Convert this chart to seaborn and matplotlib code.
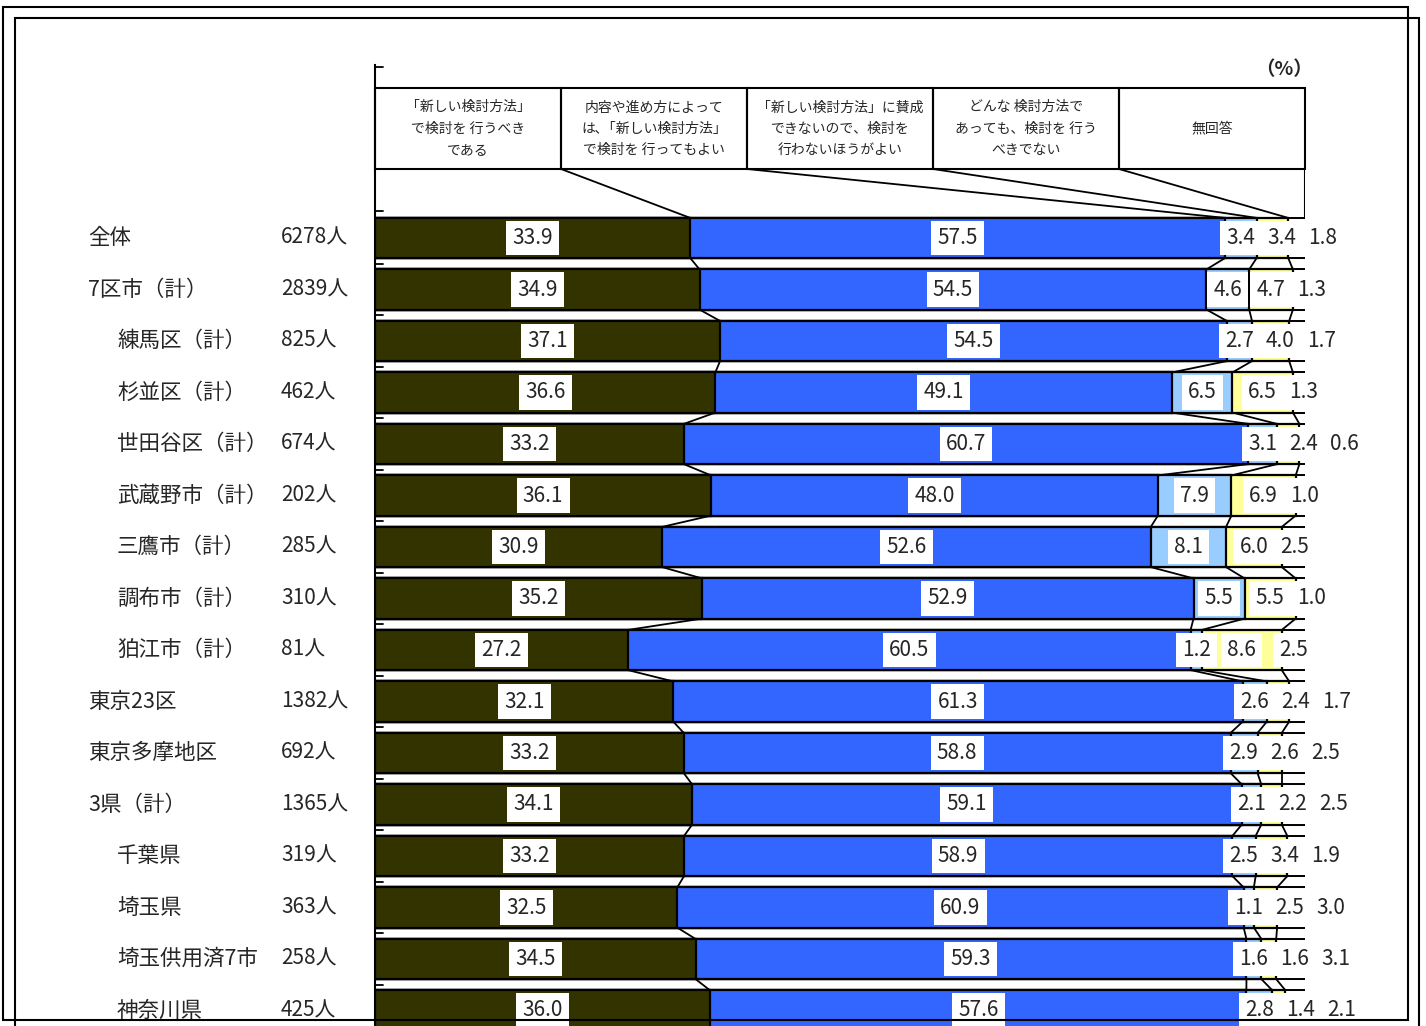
import numpy as np
import pandas as pd
import seaborn as sns
import matplotlib.pyplot as plt
from matplotlib.patches import Rectangle
from matplotlib.transforms import blended_transform_factory

# --- data ---
names = ['全体', '7区市（計）', '練馬区（計）', '杉並区（計）', '世田谷区（計）',
         '武蔵野市（計）', '三鷹市（計）', '調布市（計）', '狛江市（計）',
         '東京23区', '東京多摩地区', '3県（計）', '千葉県', '埼玉県',
         '埼玉供用済7市', '神奈川県']
indent = [0, 0, 1, 1, 1, 1, 1, 1, 1, 0, 0, 0, 1, 1, 1, 1]
counts = ['6278人', '2839人', '825人', '462人', '674人', '202人', '285人', '310人',
          '81人', '1382人', '692人', '1365人', '319人', '363人', '258人', '425人']

choices = ['「新しい検討方法」\nで検討を 行うべき\nである',
           '内容や進め方によって\nは､「新しい検討方法」\nで検討を 行ってもよい',
           '「新しい検討方法」に賛成\nできないので、検討を\n行わないほうがよい',
           'どんな 検討方法で\nあっても、検討を 行う\nべきでない',
           '無回答']

should_do = [33.9, 34.9, 37.1, 36.6, 33.2, 36.1, 30.9, 35.2, 27.2, 32.1, 33.2, 34.1, 33.2, 32.5, 34.5, 36.0]
may_do = [57.5, 54.5, 54.5, 49.1, 60.7, 48.0, 52.6, 52.9, 60.5, 61.3, 58.8, 59.1, 58.9, 60.9, 59.3, 57.6]
better_not = [3.4, 4.6, 2.7, 6.5, 3.1, 7.9, 8.1, 5.5, 1.2, 2.6, 2.9, 2.1, 2.5, 1.1, 1.6, 2.8]
never_do = [3.4, 4.7, 4.0, 6.5, 2.4, 6.9, 6.0, 5.5, 8.6, 2.4, 2.6, 2.2, 3.4, 2.5, 1.6, 1.4]
no_answer = [1.8, 1.3, 1.7, 1.3, 0.6, 1.0, 2.5, 1.0, 2.5, 1.7, 2.5, 2.5, 1.9, 3.0, 3.1, 2.1]

colors = ['#333300', '#3366FF', '#99CCFF', '#FFFF99', '#FFFFFF']

vals = np.array([should_do, may_do, better_not, never_do, no_answer]).T
pct = vals / vals.sum(axis=1, keepdims=True) * 100
cum = pct.cumsum(axis=1)
n = len(names)

df = pd.DataFrame({'name': names})
for k in range(5):
    df[f'c{k}'] = cum[:, k]

sns.set_style('white')
plt.rcParams['font.family'] = ['Noto Sans CJK JP', 'DejaVu Sans']

W, H = 1426, 1026
fig = plt.figure(figsize=(W / 100, H / 100), dpi=100)
ax = fig.add_axes([375 / W, 0, 930 / W, 1 - 65 / H])

h = 0.78
row = 51.5

# stacked 100% bars: draw cumulative totals from the widest down
for k in reversed(range(5)):
    sns.barplot(data=df, x=f'c{k}', y='name', order=names, orient='h',
                color=colors[k], saturation=1, width=h, errorbar=None,
                edgecolor='#bbbbbb' if k == 4 else 'black',
                linewidth=0.8 if k == 4 else 1.6, ax=ax)

# header table
hdr_top = (88 - 238) / row
hdr_bot = (169 - 238) / row
for k in range(5):
    ax.add_patch(Rectangle((20 * k, hdr_top), 20, hdr_bot - hdr_top, fill=False,
                           ec='black', lw=1.5, clip_on=False))
    ax.text(20 * k + 10, (hdr_top + hdr_bot) / 2, choices[k], ha='center', va='center',
            fontsize=10, linespacing=1.65)
ax.plot([100, 100], [hdr_bot, -h / 2], color='black', lw=1.5)
for k in range(4):
    ax.plot([20 * (k + 1), cum[0, k]], [hdr_bot, -h / 2], color='black', lw=1.3)

# series lines between bars
for k in range(4):
    for i in range(n - 1):
        ax.plot([cum[i, k], cum[i + 1, k]], [i + h / 2, i + 1 - h / 2], color='black', lw=1.3)

# bar outlines and gap bands
for i in range(n):
    for y in (i - h / 2, i + h / 2):
        ax.plot([0, 100.35], [y, y], color='black', lw=1.4)
    if i < n - 1:
        ax.plot([100.35, 100.35], [i + h / 2, i + 1 - h / 2 + 0.06], color='black', lw=1.2)

# category axis ticks
for y in [-3.32, -0.52] + [i + 0.5 for i in range(n - 1)]:
    ax.plot([0, 0.9], [y, y], color='black', lw=1.3)

# data labels
gap = 4.4
for i in range(n):
    prev = None
    for k in range(5):
        c = cum[i, k] - pct[i, k] / 2
        if k >= 2 and prev is not None:
            c = max(c, prev + gap)
        prev = c
        ax.text(c, i, f'{vals[i, k]:.1f}', ha='center', va='center', fontsize=15,
                bbox=dict(boxstyle='square,pad=0.3', fc='white', ec='none'),
                clip_on=False)

# row labels
trans = blended_transform_factory(fig.transFigure, ax.transData)
for i in range(n):
    x0 = 117 if indent[i] else 88
    ax.text(x0 / W, i, names[i], transform=trans, ha='left', va='center', fontsize=15.5)
    ax.text(281 / W, i, counts[i], transform=trans, ha='left', va='center', fontsize=15)

ax.text(97.7, (70 - 238) / row, '（%）', ha='center', va='center', fontsize=14,
        fontweight='bold')

ax.set_xlim(0, 100)
ax.set_ylim((H - 238) / row, (65 - 238) / row)
ax.set_xticks([])
ax.set_yticks([])
ax.set_xlabel('')
ax.set_ylabel('')
for s in ['top', 'right', 'bottom']:
    ax.spines[s].set_visible(False)
ax.spines['left'].set_color('black')
ax.spines['left'].set_linewidth(1.5)

# double frame around the figure
fig.add_artist(Rectangle((3 / W, 1 - 1020 / H), (1408 - 3) / W, (1020 - 7) / H,
                         transform=fig.transFigure, fill=False, ec='black', lw=1.5))
fig.add_artist(Rectangle((15 / W, -0.02), (1419 - 15) / W, 1.02 - 18 / H,
                         transform=fig.transFigure, fill=False, ec='black', lw=1.5))

fig.savefig('out.png', dpi=100)
